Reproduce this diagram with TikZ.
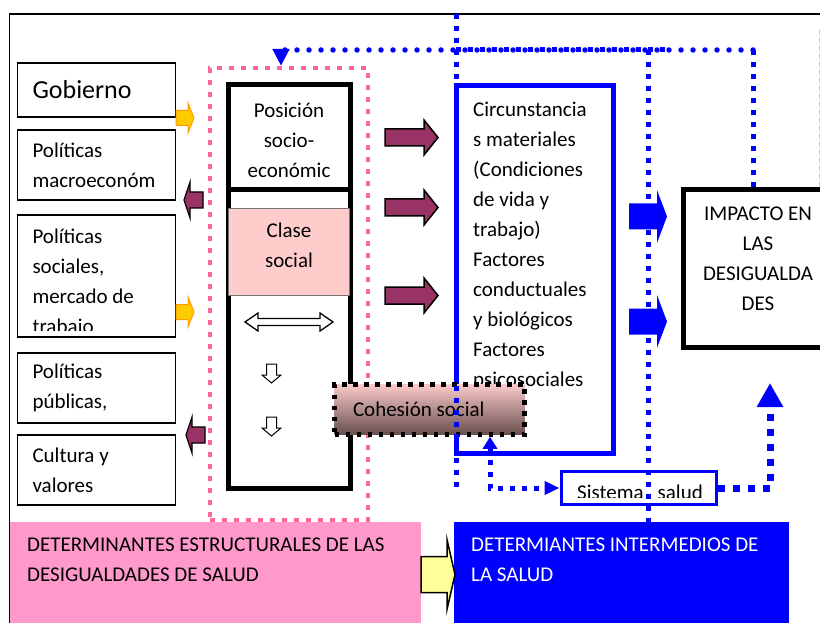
\documentclass[tikz,border=0pt]{standalone}
\usepackage{fontspec}
\setmainfont{Carlito}
\usetikzlibrary{arrows.meta}

\definecolor{granate}{RGB}{153,51,102}
\definecolor{rosa}{RGB}{255,102,153}
\definecolor{rosafondo}{RGB}{255,153,204}
\definecolor{rosaclaro}{RGB}{255,204,204}
\definecolor{naranja}{RGB}{255,204,0}
\definecolor{naranjaborde}{RGB}{255,153,0}
\definecolor{azul}{RGB}{0,0,255}
\definecolor{amarillo}{RGB}{255,255,153}
\definecolor{cohearriba}{RGB}{250,202,202}
\definecolor{coheabajo}{RGB}{105,78,78}

\tikzset{
  espacios/.style={execute at begin node={\spaceskip=0pt\xspaceskip=0pt}},
  caja/.style={draw, line width=1.5pt, minimum width=158pt, text width=128pt, align=left, inner sep=0pt, espacios},
  gruesa/.style={draw, line width=5pt, inner sep=0pt},
  puntos/.style={azul, line width=5pt, dash pattern=on 5pt off 7pt},
  puntosgordos/.style={azul, line width=7pt, dash pattern=on 7pt off 8pt},
  bolitas/.style={azul, line width=5.5pt, line cap=round, dash pattern=on 0pt off 12pt},
  pics/bloque/.style n args={4}{code={
      \path[pic actions] (0,-#2/2) -- (#1-#4,-#2/2) -- (#1-#4,-#3/2) -- (#1,0)
        -- (#1-#4,#3/2) -- (#1-#4,#2/2) -- (0,#2/2) -- cycle;}},
}

\begin{document}
\begin{tikzpicture}[x=1pt, y=-1pt, font=\fontsize{21}{30}\selectfont]
  \useasboundingbox (0,0) rectangle (820,623);
  \clip (0,0) rectangle (820,623);

  % marco
  \draw[line width=1.5pt] (9.5,623) -- (9.5,14) -- (820,14);

  % columna izquierda
  \node[caja, minimum height=54pt] (gobierno) at (96.5,90) {\fontsize{26}{30}\selectfont Gobierno};
  \node[caja, minimum height=70pt] (macro) at (96.5,165) {Políticas\\macroeconóm};
  \node[caja, minimum height=122pt] (sociales) at (96.5,276) {};
  \begin{scope}
    \clip (18,216) rectangle (175,330);
    \node[align=left, text width=128pt, inner sep=0pt, espacios] (socialestxt) at (96.5,283) {Políticas\\sociales,\\mercado de\\trabajo};
  \end{scope}
  \node[caja, minimum height=70pt] (publicas) at (96.5,388) {Políticas\\públicas,};
  \node[caja, minimum height=70pt] (cultura) at (96.5,470) {Cultura y\\valores};

  \pic[draw=naranjaborde, fill=naranja, line width=1pt] at (176,118) {bloque={18}{15}{30}{6}};
  \pic[draw=naranjaborde, fill=naranja, line width=1pt] at (176,312) {bloque={18}{15}{30}{6}};
  \pic[draw=black, fill=granate, line width=1.2pt, rotate=180] at (203,200) {bloque={19}{16}{36}{6}};
  \pic[draw=black, fill=granate, line width=1.2pt, rotate=180] at (205,435) {bloque={19}{16}{36}{6}};

  % determinantes estructurales
  \node[draw=rosa, line width=4pt, dash pattern=on 5pt off 7pt, minimum width=158pt, minimum height=452pt, inner sep=0pt] (zonaestruct) at (289,294) {};
  \node[gruesa, minimum width=122pt, minimum height=105pt] (posicion) at (289,137.5) {};
  \node[align=center, inner sep=0pt] (posiciontxt) at (289,140) {Posición\\socio-\\económic};
  \node[gruesa, minimum width=122pt, minimum height=298pt] (columna) at (289,339) {};
  \node[fill=rosaclaro, draw=black!55, line width=0.8pt, minimum width=121pt, minimum height=87pt, inner sep=0pt] (clase) at (289,251.5) {};
  \node[align=center, inner sep=0pt] (clasetxt) at (289,245) {Clase\\social};

  \draw[line width=1.3pt, fill=white] (245,322) -- ++(13,-9) -- ++(0,5.5) -- ++(62,0) -- ++(0,-5.5) -- ++(13,9)
    -- ++(-13,9) -- ++(0,-5.5) -- ++(-62,0) -- ++(0,5.5) -- cycle;
  \pic[draw=black, fill=white, line width=1pt, rotate=-90] at (271.5,364) {bloque={19}{10}{19}{8}};
  \pic[draw=black, fill=white, line width=1pt, rotate=-90] at (271.5,417) {bloque={19}{10}{19}{8}};

  \pic[draw=black, fill=granate, line width=1.5pt] at (385,137.5) {bloque={53}{17}{35}{14}};
  \pic[draw=black, fill=granate, line width=1.5pt] at (385,207.5) {bloque={53}{17}{35}{14}};
  \pic[draw=black, fill=granate, line width=1.5pt] at (385,295.5) {bloque={53}{17}{35}{14}};

  % determinantes intermedios
  \node[gruesa, draw=azul, minimum width=157pt, minimum height=367pt] (circunst) at (534.5,269.5) {};
  \node[anchor=north west, align=left, inner sep=0pt] (circtxt) at (473,102) {Circunstancia\\s materiales\\(Condiciones\\de vida y\\trabajo)\\Factores\\conductuales\\y biológicos\\Factores\\psicosociales};

  \node[draw, line width=4.5pt, dash pattern=on 4.5pt off 6.5pt, top color=cohearriba, bottom color=coheabajo,
    minimum width=190pt, minimum height=50pt, text width=153pt, inner xsep=18.5pt, align=left, espacios] (cohesion) at (429.5,409.5) {Cohesión social};

  \node[gruesa, minimum width=152pt, minimum height=157pt] (impacto) at (759,268.5) {};
  \node[align=center, inner sep=0pt] (impactotxt) at (758,259) {IMPACTO EN\\LAS\\DESIGUALDA\\DES};

  \pic[fill=azul] at (629,216.5) {bloque={38}{26}{53}{10}};
  \pic[fill=azul] at (629,321.5) {bloque={38}{26}{53}{10}};

  \node[draw=azul, line width=3pt, fill=white, minimum width=155pt, minimum height=33pt, inner sep=0pt] (sistema) at (638.5,488) {};
  \begin{scope}
    \clip (560,472) rectangle (717,497);
    \node[anchor=base west, inner sep=0pt] (sistematxt) at (577,499) {Sistema\hspace{14pt}salud};
  \end{scope}

  % recuadros de abajo
  \node[fill=rosafondo, minimum width=411pt, minimum height=110pt, inner sep=0pt, anchor=north west] (estruct) at (10,522) {};
  \node[anchor=north west, align=left, inner sep=0pt] (estructtxt) at (27,538) {DETERMINANTES ESTRUCTURALES DE LAS\\DESIGUALDADES DE SALUD};
  \node[fill=azul, minimum width=335pt, minimum height=110pt, inner sep=0pt, anchor=north west] (intermed) at (454,522) {};
  \node[anchor=north west, align=left, inner sep=0pt, text=white] (intermedtxt) at (471,538) {DETERMIANTES INTERMEDIOS DE\\LA SALUD};
  \pic[draw=black, fill=amarillo, line width=1.5pt] at (421,574.5) {bloque={34}{36}{70}{8}};

  % lineas de puntos
  \coordinate (esquina) at (753,50);
  \coordinate (giro) at (281,50);
  \coordinate (cruce) at (648,50);
  \coordinate (finpuntos) at (668,50);
  \coordinate (arriba) at (456,14);
  \coordinate (abajo) at (456,487);
  \coordinate (codo) at (490,488);
  \coordinate (haciaimpacto) at (770,383);

  \draw[puntos] (impacto.north -| esquina) -- (esquina);
  \draw[bolitas, -{Triangle[width=16pt,length=17pt]}] (esquina) -- (giro) -- (giro |- zonaestruct.north);
  \draw[puntos] (arriba |- cruce) -- (finpuntos);
  \draw[puntos] (arriba) -- (abajo);
  \draw[puntos] (cruce) -- (cruce |- intermed.north);
  \draw[puntos, {Triangle[width=14pt,length=12pt]}-{Triangle[width=13pt,length=15pt]}] (codo |- cohesion.south) -- (codo) -- (sistema.west);
  \draw[puntosgordos, -{Triangle[width=25pt,length=24pt]}] (sistema.east) -| (haciaimpacto);
  \draw[azul!25, line width=1pt, dash pattern=on 5pt off 3pt] (819,30) -- (819,186);
\end{tikzpicture}
\end{document}
